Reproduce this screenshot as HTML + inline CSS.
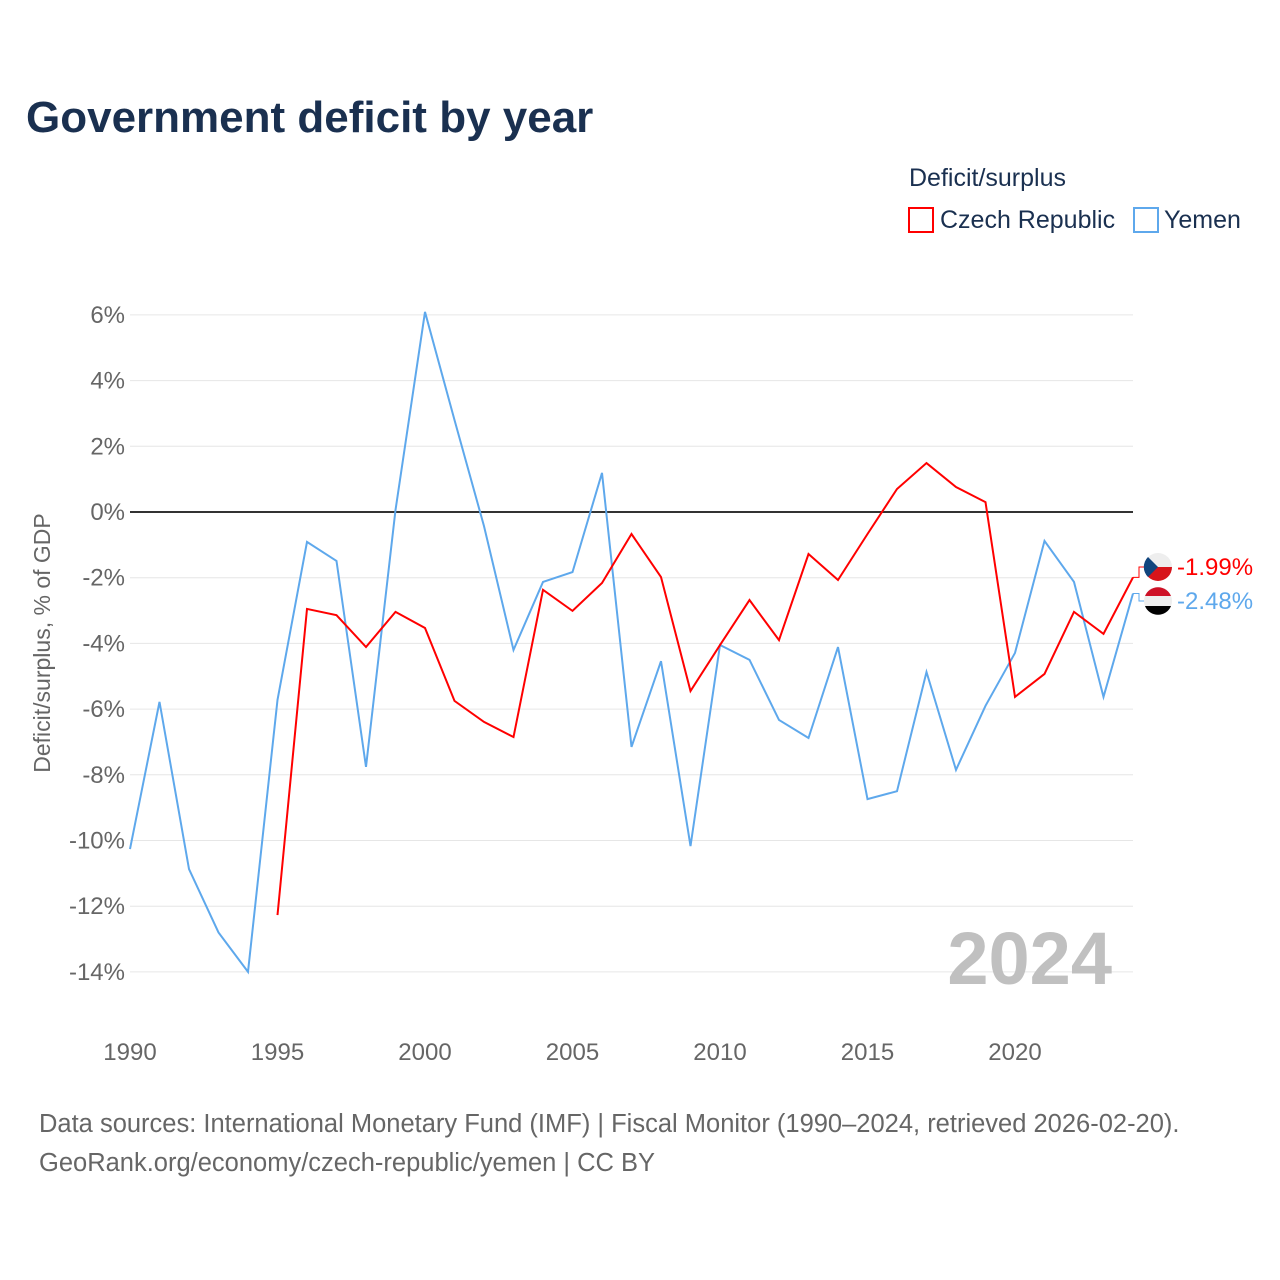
<!DOCTYPE html>
<html><head><meta charset="utf-8">
<style>
body{margin:0;background:#fff;font-family:"Liberation Sans","DejaVu Sans",sans-serif;}
#wrap{position:relative;width:1280px;height:1280px;overflow:hidden;}
</style></head>
<body>
<div id="wrap">
<svg id="chart" width="1280" height="1280">
  <text x="26" y="132" font-size="44" font-weight="bold" fill="#1a3050">Government deficit by year</text>
  <text x="909" y="186" font-size="25" fill="#1a3050">Deficit/surplus</text>
  <g>
    <rect x="909" y="208" width="24" height="24" fill="none" stroke="#ff0000" stroke-width="2"/>
    <text x="940" y="228" font-size="25" fill="#1a3050">Czech Republic</text>
  </g>
  <g>
    <rect x="1134" y="208" width="24" height="24" fill="none" stroke="#5ea8ec" stroke-width="2"/>
    <text x="1164" y="228" font-size="25" fill="#1a3050">Yemen</text>
  </g>
  <g id="grid"></g>
  <g id="yticks"></g>
  <g id="xticks"></g>
  <text transform="translate(50,643) rotate(-90)" text-anchor="middle" font-size="23" fill="#666">Deficit/surplus, % of GDP</text>
  <text x="1112" y="984" text-anchor="end" font-size="74" font-weight="bold" fill="#c0c0c0">2024</text>
  <g id="series"></g>
  <text x="39" y="1132" font-size="25.5" fill="#666">Data sources: International Monetary Fund (IMF) | Fiscal Monitor (1990–2024, retrieved 2026-02-20).</text>
  <text x="39" y="1171" font-size="25.5" fill="#666">GeoRank.org/economy/czech-republic/yemen | CC BY</text>
</svg>
</div>
<script>
const years = [];
for (let y = 1990; y <= 2024; y++) years.push(y);
const yemen = [-10.26,-5.78,-10.87,-12.8,-14.0,-5.72,-0.91,-1.49,-7.76,0.06,6.09,2.8,-0.43,-4.2,-2.13,-1.83,1.19,-7.15,-4.54,-10.17,-4.05,-4.5,-6.33,-6.88,-4.11,-8.74,-8.5,-4.87,-7.85,-5.9,-4.29,-0.88,-2.13,-5.63,-2.48];
const czechYears = [1995,1996,1997,1998,1999,2000,2001,2002,2003,2004,2005,2006,2007,2008,2009,2010,2011,2012,2013,2014,2015,2016,2017,2018,2019,2020,2021,2022,2023,2024];
const czech = [-12.27,-2.95,-3.14,-4.11,-3.04,-3.53,-5.75,-6.39,-6.85,-2.37,-3.01,-2.16,-0.67,-1.98,-5.45,-4.05,-2.68,-3.9,-1.28,-2.07,-0.67,0.7,1.49,0.76,0.3,-5.63,-4.93,-3.04,-3.71,-1.99];
const yTicks = [6,4,2,0,-2,-4,-6,-8,-10,-12,-14];
const xTicks = [1990,1995,2000,2005,2010,2015,2020];

const NS = "http://www.w3.org/2000/svg";
const X = yr => 130 + (yr - 1990) * 29.5;
const Y = v => 512 - v * 32.85;
function mk(tag, attrs, parent){ const e=document.createElementNS(NS,tag); for(const k in attrs) e.setAttribute(k,attrs[k]); parent.appendChild(e); return e; }

const grid = document.getElementById('grid'), yt = document.getElementById('yticks'), xt = document.getElementById('xticks');
yTicks.forEach(t => {
  const l = mk('line',{x1:130,x2:1133,y1:Y(t),y2:Y(t),stroke:t===0?'#333':'#e6e6e6','stroke-width':t===0?2:1},grid);
  
  
  const tx = mk('text',{x:125,y:Y(t)+8,'text-anchor':'end','font-size':24,fill:'#666'},yt);
  tx.textContent = t + '%';
  
  
});
xTicks.forEach(t => {
  const tx = mk('text',{x:X(t),y:1060,'text-anchor':'middle','font-size':24,fill:'#666'},xt);
  tx.textContent = t;
  
  
});
const ser = document.getElementById('series');
function line(xs, vs, color, name){
  const p = mk('polyline',{points:xs.map((yr,i)=>X(yr)+','+Y(vs[i])).join(' '),fill:'none',stroke:color,'stroke-width':2},ser);
  
  
}
line(years, yemen, '#5ea8ec', 'yemen-line');
line(czechYears, czech, '#ff0000', 'czech-line');

const lastX = X(2024);
function endLabel(v, color, name, ly, flag){
  mk('polyline',{points:`${lastX},${Y(v)} ${lastX+6},${Y(v)} ${lastX+6},${ly} ${lastX+12},${ly}`,fill:'none',stroke:color,'stroke-width':1},ser);
  const g = mk('g',{},ser);
  
  
  if(flag==='cz'){
    mk('circle',{cx:1158,cy:ly,r:14,fill:'#eee'},g);
    mk('path',{d:`M1144,${ly} A14,14 0 0 0 1172,${ly} Z`,fill:'#d7141a'},g);
    mk('path',{d:`M1148,${ly-10} L1158,${ly} L1148,${ly+10} A14,14 0 0 1 1148,${ly-10} Z`,fill:'#11457e'},g);
  } else {
    mk('circle',{cx:1158,cy:ly,r:14,fill:'#eee'},g);
    mk('path',{d:`M1145,${ly-5} A14,14 0 0 1 1171,${ly-5} Z`,fill:'#ce1126'},g);
    mk('path',{d:`M1145,${ly+5} A14,14 0 0 0 1171,${ly+5} Z`,fill:'#000'},g);
  }
  const t = mk('text',{x:1177,y:ly+8,'font-size':24,fill:color},ser);
  t.textContent = v.toFixed(2)+'%';
  
  
}
endLabel(czech[czech.length-1], '#ff0000', 'czech', 567, 'cz');
endLabel(yemen[yemen.length-1], '#5ea8ec', 'yemen', 601, 'ye');
</script>
</body></html>
